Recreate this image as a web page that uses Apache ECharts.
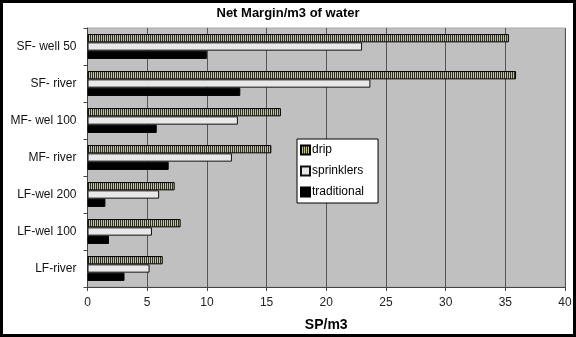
<!DOCTYPE html>
<html><head><meta charset="utf-8">
<script src="https://cdn.jsdelivr.net/npm/echarts@6/dist/echarts.min.js"></script>
<style>html,body{margin:0;padding:0;background:#fff}#c{width:576px;height:337px}</style>
</head><body><div id="c"></div>
<script>
var categories = ['SF- well 50', 'SF- river', 'MF- wel 100', 'MF- river', 'LF-wel 200', 'LF-wel 100', 'LF-river'];
var drip = [35.3, 35.9, 16.2, 15.4, 7.3, 7.8, 6.3];
var sprinklers = [23.0, 23.7, 12.6, 12.1, 6.0, 5.4, 5.2];
var traditional = [10.0, 12.8, 5.8, 6.8, 1.5, 1.8, 3.1];
var xTicks = [0, 5, 10, 15, 20, 25, 30, 35, 40];

var cv = document.createElement('canvas');
cv.width = 2; cv.height = 2;
var cx = cv.getContext('2d');
cx.fillStyle = '#2e2e1e'; cx.fillRect(0, 0, 1, 2);
cx.fillStyle = '#c4c498'; cx.fillRect(1, 0, 1, 2);

var chart = echarts.init(document.getElementById('c'));
var font = 'Liberation Sans, Arial, sans-serif';
chart.setOption({
  animation: false,
  backgroundColor: '#fff',
  title: {
    text: 'Net Margin/m3 of water', left: 'center', top: 2,
    textStyle: { fontFamily: font, fontSize: 13, fontWeight: 'bold', color: '#000' }
  },
  legend: {
    orient: 'vertical', left: 297, top: 139,
    backgroundColor: '#fff', borderColor: '#000', borderWidth: 1,
    padding: [5, 14, 5, 3], itemGap: 9, itemWidth: 9, itemHeight: 9,
    icon: 'rect',
    textStyle: { fontFamily: font, fontSize: 12, color: '#000', padding: [0, 0, 0, -3] },
    data: ['drip', 'sprinklers', 'traditional']
  },
  grid: { left: 87.5, right: 11, top: 28, bottom: 45, show: true, backgroundColor: '#c0c0c0', borderColor: '#a8a8a8', borderWidth: 1 },
  xAxis: {
    type: 'value', min: 0, max: 40, interval: 5,
    name: 'SP/m3', nameLocation: 'middle', nameGap: 31,
    nameTextStyle: { fontFamily: font, fontSize: 14, fontWeight: 'bold', color: '#000' },
    axisLine: { show: true, lineStyle: { color: '#444', width: 1 } },
    axisTick: { show: true, length: 4, lineStyle: { color: '#444' } },
    axisLabel: { fontFamily: font, fontSize: 12, color: '#222', margin: 10,
      formatter: function (v) { return xTicks.indexOf(v) >= 0 ? String(v) : ''; } },
    splitLine: { show: true, lineStyle: { color: '#555', width: 1 } }
  },
  yAxis: {
    type: 'category', data: categories, inverse: true,
    axisLine: { show: true, lineStyle: { color: '#444', width: 1 } },
    axisTick: { show: true, length: 4, lineStyle: { color: '#444' } },
    axisLabel: { fontFamily: font, fontSize: 12, color: '#111', margin: 11 },
    splitLine: { show: false }
  },
  series: [
    { name: 'drip', type: 'bar', data: drip, barWidth: 8.3, barGap: '0%',
      itemStyle: { color: { image: cv, repeat: 'repeat' }, borderColor: '#000', borderWidth: 1 } },
    { name: 'sprinklers', type: 'bar', data: sprinklers, barWidth: 8.3, barGap: '0%',
      itemStyle: { color: '#e8e8e8', borderColor: '#111', borderWidth: 1 } },
    { name: 'traditional', type: 'bar', data: traditional, barWidth: 8.3, barGap: '0%',
      itemStyle: { color: '#000', borderColor: '#000', borderWidth: 1 } }
  ],
  graphic: [{
    type: 'rect', silent: true, z: 100,
    shape: { x: 0, y: 0, width: 576, height: 337 },
    style: { fill: 'none', stroke: '#000', lineWidth: 6 }
  }]
});
</script></body></html>
